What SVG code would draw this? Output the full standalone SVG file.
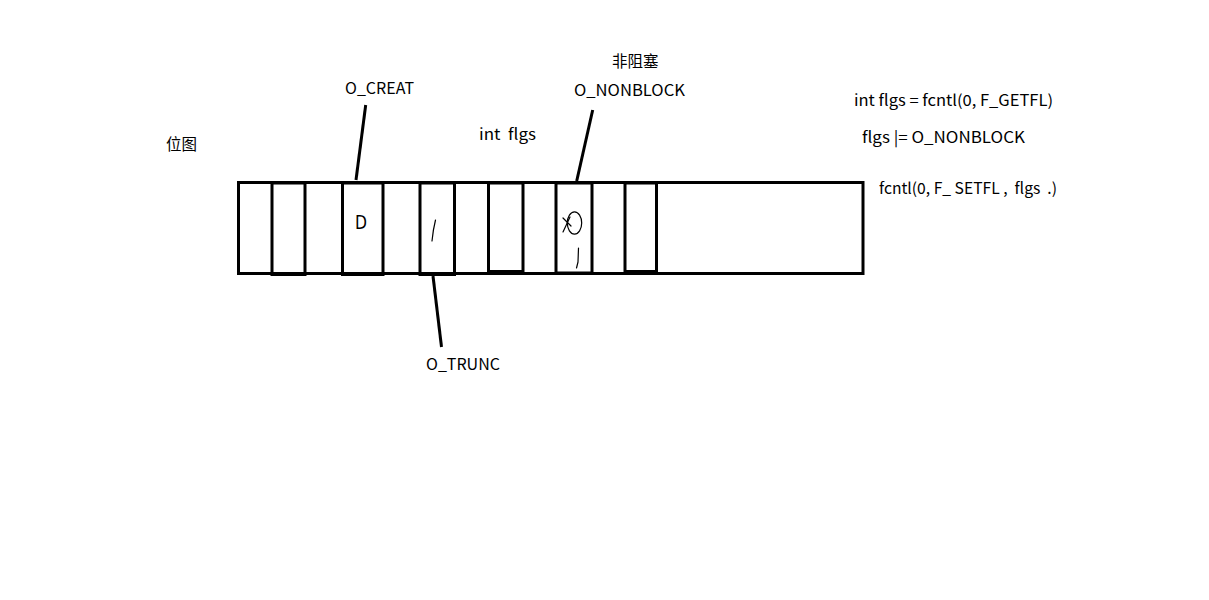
<svg xmlns="http://www.w3.org/2000/svg" width="1209" height="600" viewBox="0 0 1209 600">
<style>
.t{font-family:"Noto Sans CJK SC","Noto Sans",sans-serif;font-size:15.5px;fill:#000;white-space:pre}
.cell{fill:none;stroke:#000;stroke-width:3}
.ln{fill:none;stroke:#000;stroke-width:3;stroke-linecap:butt}
.hw{fill:none;stroke:#000;stroke-width:1.2;stroke-linecap:round;stroke-linejoin:round}
.hand{font-family:"DejaVu Sans",sans-serif;font-size:19px;fill:#000}
</style>
<rect width="1209" height="600" fill="#fff"/>
<g id="bitmap">
<rect class="cell" x="238.5" y="182.5" width="624.5" height="91"/>
</g>
<g id="bit1"><rect class="cell" x="272" y="183" width="33" height="91.5"/></g>
<g id="bit-creat"><rect class="cell" x="342.5" y="183" width="40.5" height="91.5"/>
<text class="hand" x="355" y="229" textLength="12" lengthAdjust="spacingAndGlyphs">D</text></g>
<g id="bit-trunc"><rect class="cell" x="420" y="183" width="34.5" height="91.5"/>
<path class="hw" d="M435.5,220 Q433,230 432,241"/></g>
<g id="bit4"><rect class="cell" x="488.5" y="183" width="34.5" height="88.5"/></g>
<g id="bit-nonblock"><rect class="cell" x="556" y="183" width="36" height="90"/>
<ellipse class="hw" cx="574.5" cy="223" rx="7.2" ry="11.2"/>
<path class="hw" d="M563,232 L570,217 M563,218 L571,226"/>
<path class="hw" d="M578.5,248 L578,262 L576.5,268"/></g>
<g id="bit6"><rect class="cell" x="625" y="183" width="31.5" height="88.5"/></g>
<g id="connectors">
<line class="ln" x1="365.7" y1="105" x2="356" y2="180"/>
<line class="ln" x1="592.7" y1="110" x2="576.7" y2="181"/>
<line class="ln" x1="433" y1="276" x2="441.5" y2="347"/>
</g>
<g id="labels">
<text class="t" x="166" y="150">位图</text>
<text class="t" x="345" y="94" textLength="69" lengthAdjust="spacingAndGlyphs">O_CREAT</text>
<text class="t" x="612" y="67">非阻塞</text>
<text class="t" x="574" y="96" textLength="111" lengthAdjust="spacingAndGlyphs">O_NONBLOCK</text>
<text class="t" x="479" y="140" textLength="57" lengthAdjust="spacingAndGlyphs">int  flgs</text>
<text class="t" x="426" y="370" textLength="74" lengthAdjust="spacingAndGlyphs">O_TRUNC</text>
<text class="t" x="854" y="106" textLength="199" lengthAdjust="spacingAndGlyphs">int flgs = fcntl(0, F_GETFL)</text>
<text class="t" x="862" y="143" textLength="163" lengthAdjust="spacingAndGlyphs">flgs |= O_NONBLOCK</text>
<text class="t" x="879" y="194" textLength="178" lengthAdjust="spacingAndGlyphs">fcntl(0, F_ SETFL ,  flgs  .)</text>
</g>
</svg>
